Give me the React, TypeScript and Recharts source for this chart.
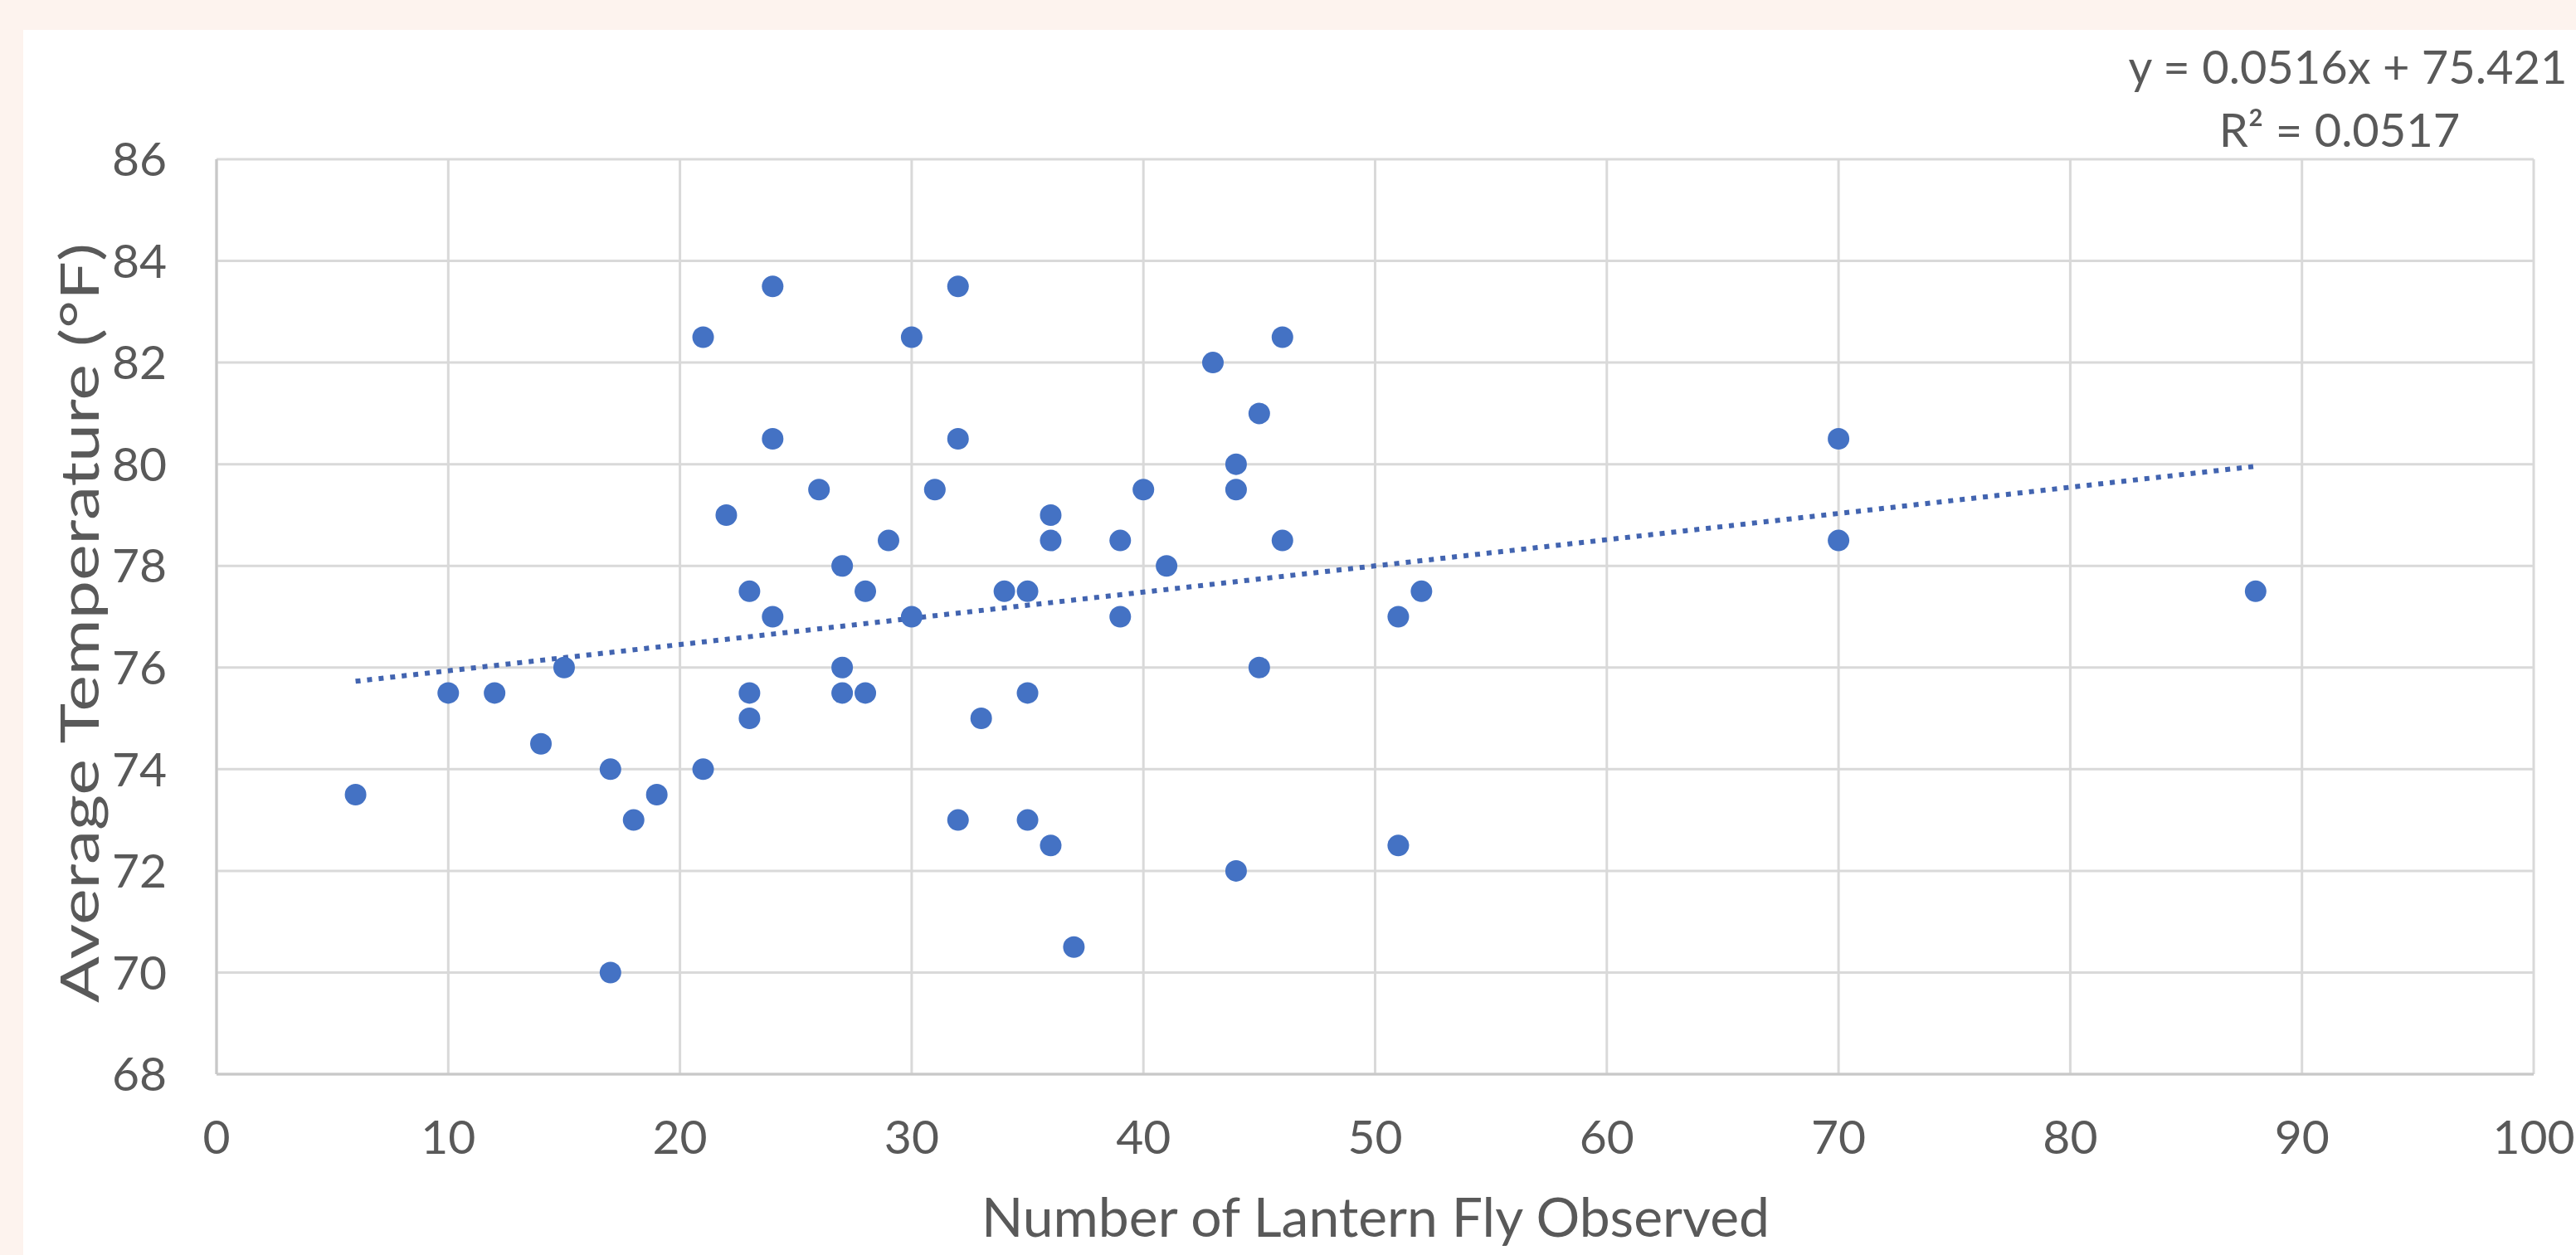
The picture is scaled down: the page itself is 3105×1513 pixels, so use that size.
import React from 'react';
import { ScatterChart, Scatter, XAxis, YAxis, CartesianGrid, ReferenceLine } from 'recharts';

// Number of lantern flies observed (x) and average temperature in °F (y)
const flyCounts = [
  6, 10, 12, 14, 15, 17, 17, 18, 19, 21, 21, 22, 23, 23, 23, 24, 24, 24, 26, 27,
  27, 27, 28, 28, 29, 30, 30, 31, 32, 32, 32, 33, 34, 35, 35, 35, 36, 36, 36, 37,
  39, 39, 40, 41, 43, 44, 44, 44, 45, 45, 46, 46, 51, 51, 52, 70, 70, 88,
];
const avgTemps = [
  73.5, 75.5, 75.5, 74.5, 76, 74, 70, 73, 73.5, 82.5, 74, 79, 77.5, 75.5, 75, 83.5, 80.5, 77, 79.5, 78,
  76, 75.5, 77.5, 75.5, 78.5, 82.5, 77, 79.5, 83.5, 80.5, 73, 75, 77.5, 77.5, 75.5, 73, 79, 78.5, 72.5, 70.5,
  78.5, 77, 79.5, 78, 82, 80, 79.5, 72, 81, 76, 82.5, 78.5, 77, 72.5, 77.5, 80.5, 78.5, 77.5,
];

const xTicks = [0, 10, 20, 30, 40, 50, 60, 70, 80, 90, 100];
const yTicks = [68, 70, 72, 74, 76, 78, 80, 82, 84, 86];

// Linear trendline end points (from x = 6 to x = 88)
const trendStart = { x: 6, y: 75.73 };
const trendEnd = { x: 88, y: 79.96 };

const equationLine = 'y = 0.0516x + 75.421';
const rSquaredLine = 'R² = 0.0517';
const xTitle = 'Number of Lantern Fly Observed';
const yTitle = 'Average Temperature (°F)';

const data = flyCounts.map((x, i) => ({ x, y: avgTemps[i] }));

const FONT = 'Lato, "Open Sans", sans-serif';
const TEXT = '#595959';
const DOT = '#4472C4';

const CARD_LEFT = 28;
const CARD_TOP = 36;
const W = 3105 - CARD_LEFT;
const H = 1513 - CARD_TOP;

const Dot = (props: any) => {
  const { cx, cy } = props;
  if (cx == null || cy == null) return <g />;
  return <circle cx={cx} cy={cy} r={13} fill={DOT} />;
};

export default function App() {
  return (
    <div
      style={{
        position: 'absolute',
        left: 0,
        top: 0,
        width: 3105,
        height: 1513,
        background: '#fdf3ee',
        overflow: 'hidden',
      }}
    >
      <div
        style={{
          position: 'absolute',
          left: CARD_LEFT,
          top: CARD_TOP,
          width: W,
          height: H,
          background: '#ffffff',
        }}
      >
        <ScatterChart
          width={W}
          height={H}
          margin={{ top: 156, right: 51, bottom: 98, left: 113 }}
        >
          <CartesianGrid stroke="#d9d9d9" strokeWidth={3} />
          <XAxis
            type="number"
            dataKey="x"
            domain={[0, 100]}
            ticks={xTicks}
            interval={0}
            height={120}
            tickLine={false}
            tickSize={0}
            tickMargin={56}
            axisLine={{ stroke: '#c8c8c8', strokeWidth: 3 }}
            tick={{ fill: TEXT, fontSize: 57, fontFamily: FONT }}
            label={{
              content: () => (
                <text
                  x={1630}
                  y={1429}
                  textAnchor="middle"
                  dominantBaseline="central"
                  fill={TEXT}
                  fontSize={66}
                  fontFamily={FONT}
                >
                  {xTitle}
                </text>
              ),
            }}
          />
          <YAxis
            type="number"
            dataKey="y"
            domain={[68, 86]}
            ticks={yTicks}
            interval={0}
            width={120}
            tickLine={false}
            tickSize={0}
            tickMargin={60}
            axisLine={{ stroke: '#c8c8c8', strokeWidth: 3 }}
            tick={{ fill: TEXT, fontSize: 57, fontFamily: FONT }}
            label={{
              content: () => (
                <text
                  x={0}
                  y={0}
                  textAnchor="middle"
                  dominantBaseline="central"
                  fill={TEXT}
                  fontSize={64}
                  fontFamily={FONT}
                  transform="translate(66 715) rotate(-90) scale(1.29 1)"
                >
                  {yTitle}
                </text>
              ),
            }}
          />
          <ReferenceLine
            segment={[trendStart, trendEnd]}
            stroke="#4264b0"
            strokeWidth={6}
            strokeDasharray="6 8"
            ifOverflow="visible"
          />
          <Scatter data={data} shape={Dot} isAnimationActive={false} />
        </ScatterChart>
        <div
          style={{
            position: 'absolute',
            left: 2502,
            width: 600,
            top: 6,
            textAlign: 'center',
            color: TEXT,
            fontFamily: FONT,
            fontSize: 56,
            lineHeight: '76px',
          }}
        >
          <div>{equationLine}</div>
          <div style={{ paddingRight: 20 }}>{rSquaredLine}</div>
        </div>
      </div>
    </div>
  );
}
